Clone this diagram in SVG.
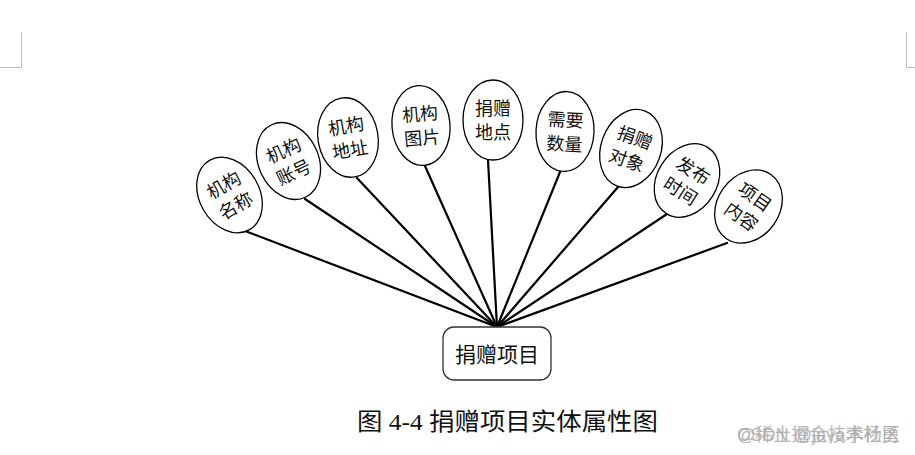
<svg xmlns="http://www.w3.org/2000/svg" width="915" height="455" viewBox="0 0 915 455">
<style>
.bg{fill:#ffffff}
.attr ellipse{fill:#ffffff;stroke:#000000;stroke-width:1.3}
.attr text{font-family:"Noto Sans CJK SC","Liberation Sans",sans-serif;font-size:18px;fill:#111111;text-anchor:middle}
.conn line{stroke:#000000;stroke-width:2.2;stroke-linecap:round}
.mark{stroke:#bdbdbd;stroke-width:1;fill:none}
.ent rect{fill:#ffffff;stroke:#333333;stroke-width:1.3}
.ent text{font-family:"Noto Sans CJK SC","Liberation Sans",sans-serif;font-size:21px;fill:#111111;text-anchor:middle}
.cap{font-family:"Liberation Serif","Noto Sans CJK SC",serif;font-size:24px;fill:#111111}
.wm{font-family:"Liberation Sans","Noto Sans CJK SC",sans-serif;font-size:18px;fill:#a8a8a8;opacity:0.8}
</style>
<rect class="bg" x="0" y="0" width="915" height="455"/>
<path class="mark" d="M21.5 32 V67.5 H0"/>
<path class="mark" d="M906.5 32 V67.5 H915"/>
<g id="connectors" class="conn">
<line x1="497" y1="327" x2="245" y2="231"/>
<line x1="497" y1="327" x2="305" y2="199"/>
<line x1="497" y1="327" x2="357" y2="178"/>
<line x1="497" y1="327" x2="425" y2="166"/>
<line x1="497" y1="327" x2="488" y2="160"/>
<line x1="497" y1="327" x2="560" y2="172"/>
<line x1="497" y1="327" x2="618" y2="187"/>
<line x1="497" y1="327" x2="667" y2="214"/>
<line x1="497" y1="327" x2="727" y2="243"/>
</g>
<g id="attr-jigoumingcheng" class="attr" transform="translate(229.5,195) rotate(-30)">
<ellipse cx="0" cy="0" rx="30" ry="40"/>
<text x="0" y="-5">机构</text><text x="0" y="19">名称</text>
</g>
<g id="attr-jigouzhanghao" class="attr" transform="translate(288.5,161) rotate(-25)">
<ellipse cx="0" cy="0" rx="30" ry="40"/>
<text x="0" y="-5">机构</text><text x="0" y="19">账号</text>
</g>
<g id="attr-jigoudizhi" class="attr" transform="translate(348,137.5) rotate(-10)">
<ellipse cx="0" cy="0" rx="30" ry="40"/>
<text x="0" y="-5">机构</text><text x="0" y="19">地址</text>
</g>
<g id="attr-jigoutupian" class="attr" transform="translate(421,125.5) rotate(-5)">
<ellipse cx="0" cy="0" rx="29" ry="40"/>
<text x="0" y="-5">机构</text><text x="0" y="19">图片</text>
</g>
<g id="attr-juanzengdidian" class="attr" transform="translate(493,120)">
<ellipse cx="0" cy="0" rx="30" ry="40"/>
<text x="0" y="-5">捐赠</text><text x="0" y="19">地点</text>
</g>
<g id="attr-xuyaoshuliang" class="attr" transform="translate(565,131.5) rotate(3)">
<ellipse cx="0" cy="0" rx="29" ry="40"/>
<text x="0" y="-5">需要</text><text x="0" y="19">数量</text>
</g>
<g id="attr-juanzengduixiang" class="attr" transform="translate(631,148.5) rotate(20)">
<ellipse cx="0" cy="0" rx="30" ry="40"/>
<text x="0" y="-5">捐赠</text><text x="0" y="19">对象</text>
</g>
<g id="attr-fabushijian" class="attr" transform="translate(687,180.5) rotate(32)">
<ellipse cx="0" cy="0" rx="30" ry="39"/>
<text x="0" y="-5">发布</text><text x="0" y="19">时间</text>
</g>
<g id="attr-xiangmuneirong" class="attr" transform="translate(748.5,206.5) rotate(35)">
<ellipse cx="0" cy="0" rx="31" ry="39"/>
<text x="0" y="-5">项目</text><text x="0" y="19">内容</text>
</g>
<g id="entity-juanzengxiangmu" class="ent">
<rect x="443" y="327" width="108" height="53" rx="11" ry="11"/>
<text x="497" y="362">捐赠项目</text>
</g>
<text class="cap" x="357" y="430" textLength="301" lengthAdjust="spacingAndGlyphs">图 4-4 捐赠项目实体属性图</text>
<text class="wm" x="737" y="441" textLength="163" lengthAdjust="spacingAndGlyphs">@稀土掘金技术社区</text>
<text class="wm" x="737" y="441" textLength="163" lengthAdjust="spacingAndGlyphs">CSDN @java李杨勇</text>
</svg>
